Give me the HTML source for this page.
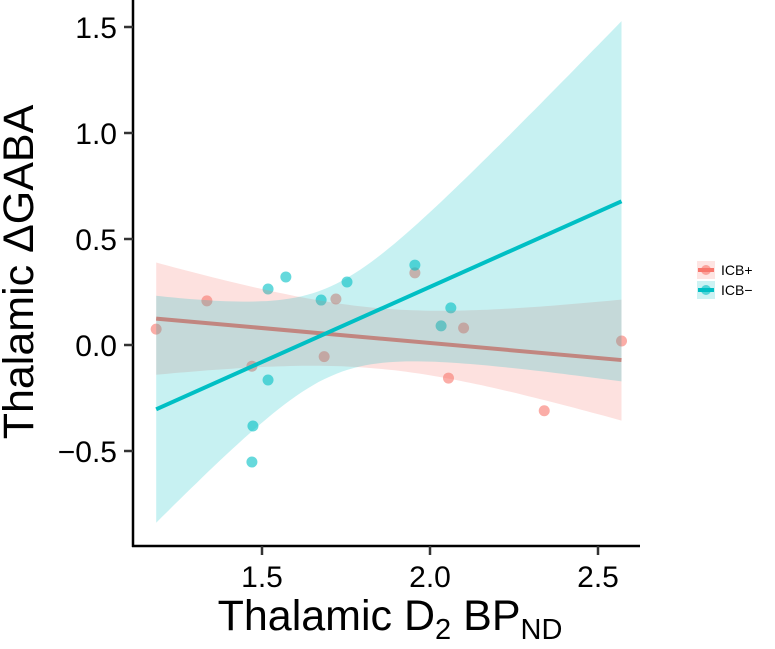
<!DOCTYPE html>
<html><head><meta charset="utf-8"><style>
body{margin:0;background:#fff;}
svg text{font-family:"Liberation Sans",Arial,sans-serif;}
</style></head><body>
<svg id="chart" width="775" height="644" viewBox="0 0 775 644" xmlns="http://www.w3.org/2000/svg">
<g id="points"></g>
<g id="smooth"></g>
<g id="axes"></g>
<g id="legend"></g>
</svg>
<script>
const icbPlusX = [1.185,1.336,1.47,1.685,1.72,1.955,2.10,2.055,2.34,2.57];
const icbPlusY = [0.075,0.208,-0.10,-0.055,0.217,0.34,0.08,-0.156,-0.31,0.019];
const icbMinusX = [1.473,1.47,1.518,1.571,1.518,1.676,1.753,1.955,2.033,2.062];
const icbMinusY = [-0.382,-0.552,0.264,0.321,-0.165,0.212,0.297,0.377,0.09,0.175];
const xTicks = [1.5,2.0,2.5];
const yTicks = [1.5,1.0,0.5,0.0,-0.5];
const yTickLabels = ["1.5","1.0","0.5","0.0","\u22120.5"];
const seriesNames = ["ICB+","ICB\u2212"];

const NS="http://www.w3.org/2000/svg";
const xs=v=>262+(v-1.5)*336;
const ys=v=>345-v*212;
const X0=1.185,X1=2.57;
function mk(tag,attrs,parent){const e=document.createElementNS(NS,tag);for(const k in attrs)e.setAttribute(k,attrs[k]);parent.appendChild(e);return e;}
function fit(x,y){const n=x.length,mx=x.reduce((a,b)=>a+b)/n,my=y.reduce((a,b)=>a+b)/n;
 let sxx=0,sxy=0;for(let i=0;i<n;i++){sxx+=(x[i]-mx)**2;sxy+=(x[i]-mx)*(y[i]-my);}
 const b=sxy/sxx,a=my-b*mx;let sse=0;for(let i=0;i<n;i++)sse+=(y[i]-a-b*x[i])**2;
 const s=Math.sqrt(sse/(n-2));return{a,b,s,n,mx,sxx};}
const tcrit=2.306;
const colors=["#F8766D","#00BFC4"];
const data=[[icbPlusX,icbPlusY],[icbMinusX,icbMinusY]];
const sm=document.getElementById('smooth'),pts=document.getElementById('points');
data.forEach((d,k)=>{
 d[0].forEach((x,i)=>{const c=mk('circle',{cx:xs(x),cy:ys(d[1][i]),r:5.5,fill:colors[k],'fill-opacity':0.6},pts);
  
  });
});
data.forEach((d,k)=>{
 const f=fit(d[0],d[1]);const up=[],lo=[];
 for(let i=0;i<=80;i++){const x=X0+(X1-X0)*i/80;const yh=f.a+f.b*x;
  const se=f.s*Math.sqrt(1/f.n+(x-f.mx)**2/f.sxx);
  up.push(xs(x).toFixed(1)+","+ys(yh+tcrit*se).toFixed(1));lo.unshift(xs(x).toFixed(1)+","+ys(yh-tcrit*se).toFixed(1));}
 const p=mk('polygon',{points:up.concat(lo).join(' '),fill:colors[k],'fill-opacity':0.22},sm);
 
 
 const l=mk('line',{x1:xs(X0),y1:ys(f.a+f.b*X0),x2:xs(X1),y2:ys(f.a+f.b*X1),stroke:colors[k],'stroke-width':4},sm);
 
 
});
const ax=document.getElementById('axes');
mk('line',{x1:133,y1:0,x2:133,y2:547,stroke:'#000','stroke-width':2.5},ax);
mk('line',{x1:132,y1:546,x2:640,y2:546,stroke:'#000','stroke-width':2.5},ax);
xTicks.forEach(v=>{mk('line',{x1:xs(v),y1:546,x2:xs(v),y2:555,stroke:'#333','stroke-width':2.5},ax);
 const t=mk('text',{x:xs(v),y:587,'font-size':30,'text-anchor':'middle',fill:'#000'},ax);t.textContent=v.toFixed(1);
 
 });
yTicks.forEach((v,i)=>{mk('line',{x1:124,y1:ys(v),x2:133,y2:ys(v),stroke:'#333','stroke-width':2.5},ax);
 const t=mk('text',{x:117,y:ys(v)+11,'font-size':30,'text-anchor':'end',fill:'#000'},ax);t.textContent=yTickLabels[i];
 
 });
const xt=mk('text',{x:390,y:630,'font-size':43,'text-anchor':'middle',fill:'#000'},ax);
xt.innerHTML='Thalamic D<tspan font-size="29" dy="9">2</tspan><tspan dy="-9"> BP</tspan><tspan font-size="29" dy="9">ND</tspan>';


const yt=mk('text',{x:0,y:0,'font-size':43,'text-anchor':'middle',fill:'#000',transform:'translate(33,272) rotate(-90)'},ax);
yt.textContent='Thalamic \u0394GABA';


const lg=document.getElementById('legend');
seriesNames.forEach((n,k)=>{const y=270+20*k;
 const g=mk('g',{},lg);
 
 
 mk('rect',{x:697,y:y-9,width:18,height:18,fill:colors[k],'fill-opacity':0.2},g);
 mk('line',{x1:698,y1:y,x2:714,y2:y,stroke:colors[k],'stroke-width':4},g);
 mk('circle',{cx:706,cy:y,r:5,fill:colors[k],'fill-opacity':0.6},g);
 const t=mk('text',{x:721,y:y+5,'font-size':14,fill:'#000'},g);t.textContent=n;});
</script>
</body></html>
